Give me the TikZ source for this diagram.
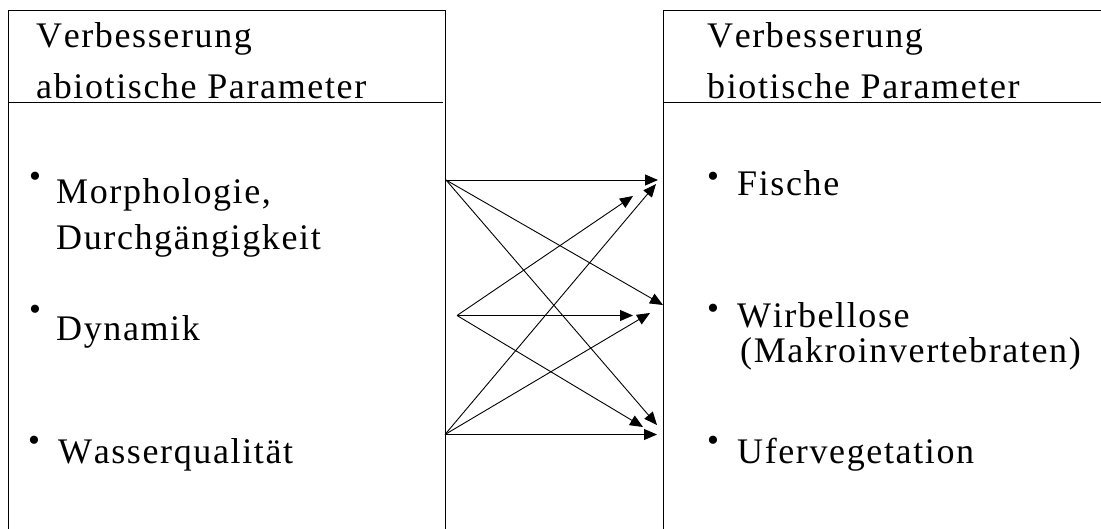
\documentclass[tikz,border=0pt]{standalone}
\usepackage{fontspec}
\setmainfont{Liberation Serif}
\newfontfamily\spacedserif{Liberation Serif}[LetterSpace=4.5,Kerning=Off]
\usetikzlibrary{arrows.meta}
\tikzset{
  frame/.style={line width=1pt, draw=black},
  label/.style={anchor=base west, inner sep=0pt, font=\spacedserif\fontsize{36}{40}\selectfont},
  dot/.style={anchor=center, inner sep=0pt, font=\fontsize{34}{34}\selectfont},
  link/.style={line width=0.9pt, -{Triangle[length=13pt,width=11pt]}}
}
\begin{document}
\begin{tikzpicture}[x=1pt,y=-1pt]
  \clip (0,0) rectangle (1101,528);
  \fill[white] (0,0) rectangle (1101,528);

  % left panel: abiotic parameters
  \draw[frame] (8,540) -- (8,10) -- (445,10) -- (445,540);
  \draw[frame] (8,102) -- (443,102);
  \node[label] (lh1) at (36,47) {Verbesserung};
  \node[label] (lh2) at (36,98) {abiotische Parameter};
  \node[dot] (lb1) at (35,180) {•};
  \node[label] (l1a) at (56,203) {Morphologie,};
  \node[label] (l1b) at (56,249) {Durchgängigkeit};
  \node[dot] (lb2) at (35,313) {•};
  \node[label] (l2) at (56,340) {Dynamik};
  \node[dot] (lb3) at (34,444) {•};
  \node[label] (l3) at (58,463) {Wasserqualität};

  % right panel: biotic parameters
  \draw[frame] (663,540) -- (663,10) -- (1110,10);
  \draw[frame] (663,102) -- (1110,102);
  \node[label] (rh1) at (707,47) {Verbesserung};
  \node[label] (rh2) at (707,98) {biotische Parameter};
  \node[dot] (rb1) at (713,180) {•};
  \node[label] (r1) at (737,195) {Fische};
  \node[dot] (rb2) at (713,312) {•};
  \node[label] (r2a) at (737,327) {Wirbellose};
  \node[label] (r2b) at (740,362) {(Makroinvertebraten)};
  \node[dot] (rb3) at (713,444) {•};
  \node[label] (r3) at (737,463) {Ufervegetation};

  % arrow start points on the left panel
  \coordinate (sA) at (446,180);
  \coordinate (sB) at (457,315.5);
  \coordinate (sC) at (445,434.5);
  % arrow end points in front of the right panel
  \coordinate (tA1) at (658,180);
  \coordinate (tA2) at (663,305);
  \coordinate (tA3) at (657,425);
  \coordinate (tB1) at (633,196);
  \coordinate (tB2) at (633,315.5);
  \coordinate (tB3) at (643,427);
  \coordinate (tC1) at (656,184);
  \coordinate (tC2) at (650,313);
  \coordinate (tC3) at (657,434.5);

  \draw[link] (sA) -- (tA1);
  \draw[link] (sA) -- (tA2);
  \draw[link] (sA) -- (tA3);
  \draw[link] (sB) -- (tB1);
  \draw[link] (sB) -- (tB2);
  \draw[link] (sB) -- (tB3);
  \draw[link] (sC) -- (tC1);
  \draw[link] (sC) -- (tC2);
  \draw[link] (sC) -- (tC3);
\end{tikzpicture}
\end{document}
